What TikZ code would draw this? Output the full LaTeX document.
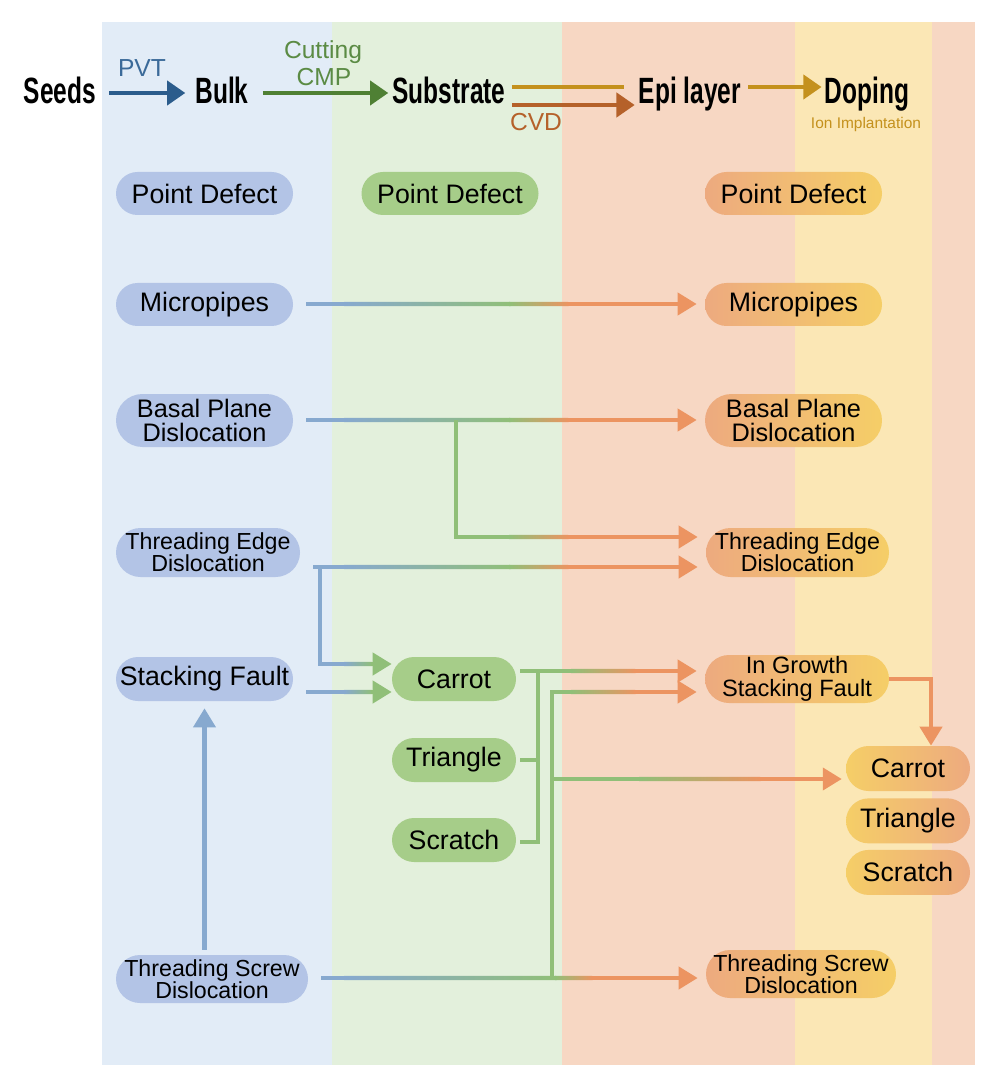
\documentclass[tikz,border=0pt]{standalone}
\usepackage{fontspec}
\setmainfont{Liberation Sans}
\newfontfamily\headfont[FakeStretch=0.67]{Liberation Sans}
\usetikzlibrary{arrows.meta,calc,positioning}

\definecolor{bandblue}{HTML}{E2ECF7}
\definecolor{bandgreen}{HTML}{E3F0DC}
\definecolor{bandsalmon}{HTML}{F7D7C3}
\definecolor{bandyellow}{HTML}{FBE7B5}
\definecolor{pillblue}{HTML}{B3C4E6}
\definecolor{pillgreen}{HTML}{A6CD89}
\definecolor{pillorange}{HTML}{EDAA7F}
\definecolor{pillyellow}{HTML}{F5CE67}
\definecolor{lineblue}{HTML}{87A9CF}
\definecolor{linegreen}{HTML}{90BF78}
\definecolor{lineorange}{HTML}{EC9461}
\definecolor{pvtblue}{HTML}{2B5C8C}
\definecolor{pvttext}{HTML}{3B6A99}
\definecolor{cmpgreen}{HTML}{4F8034}
\definecolor{cmptext}{HTML}{5B8B44}
\definecolor{cvdbrown}{HTML}{B5612A}
\definecolor{epigold}{HTML}{C4911D}

\tikzset{
  head/.style={
    font=\headfont\bfseries\fontsize{26}{26}\selectfont,
    inner sep=0pt,
    anchor=base,
  },
  proc label/.style={
    font=\fontsize{17.5}{17.5}\selectfont,
    inner sep=0pt,
    anchor=base,
  },
  pill/.style 2 args={
    minimum width={#1*0.025cm},
    minimum height={#2*0.025cm},
    rounded corners={#2*0.0125cm},
    inner sep=0pt,
    align=center,
    font=\fontsize{19}{19}\selectfont,
  },
  basal text/.style={font=\fontsize{18}{17.7}\selectfont},
  thread text/.style={font=\fontsize{16.5}{15.6}\selectfont},
  growth text/.style={font=\fontsize{16.8}{16.2}\selectfont},
  blue pill/.style={fill=pillblue},
  green pill/.style={fill=pillgreen},
  epi pill/.style={left color=pillorange, right color=pillyellow},
  doping pill/.style={left color=pillyellow, right color=pillorange},
  flow/.style={line width=3.2pt},
  flow tip/.style={-{Triangle[length=13.5pt,width=15.5pt]}},
  after fade/.style={shorten <=-0.7pt},
  head arrow/.style={line width=3.4pt, -{Triangle[length=13pt,width=17pt]}},
}

% colour fade along a straight piece (a band as thick as a flow line)
\newcommand{\fadeline}[4]{%
  \shade[left color=#3, right color=#4]
    ($(#1)+(-1,-2.2)$) -- ($(#2)+(0,-2.2)$) -- ($(#2)+(0.6,2.2)$) -- ($(#1)+(-1,2.2)$) -- cycle;}

% blue -> green -> orange connector along one row
\newcommand{\bgoline}[5]{%
  \draw[flow, lineblue, shorten <=9.2pt] (#1.east |- #3) -- (xb |- #3);
  \fadeline{xb |- #3}{#4 |- #3}{lineblue}{linegreen}
  \fadeline{#4 |- #3}{#5 |- #3}{linegreen}{lineorange}
  \draw[flow, lineorange, flow tip, after fade, shorten >=5.7pt] (#5 |- #3) -- (#2.west |- #3);
}

\begin{document}
\begin{tikzpicture}[x=0.025cm, y=-0.025cm]
  % stage bands
  \fill[white] (0,0) rectangle (993,1075);
  \fill[bandblue] (102,22) rectangle (332,1065);
  \fill[bandgreen] (332,22) rectangle (562,1065);
  \fill[bandsalmon] (562,22) rectangle (795,1065);
  \fill[bandyellow] (795,22) rectangle (932,1065);
  \fill[bandsalmon] (932,22) rectangle (975,1065);

  % process row
  \node[head] (seeds) at (60,104) {Seeds};
  \node[head] (bulk) at (222,104) {Bulk};
  \node[head] (substrate) at (449,104) {Substrate};
  \node[head] (epi) at (690,104) {Epi layer};
  \node[head] (doping) at (867,104) {Doping};

  \coordinate (arrow row) at (0,93);
  \coordinate (gold row) at (0,87);
  \coordinate (cvd row) at (0,105);

  \draw[pvtblue, head arrow, shorten <=9pt, shorten >=7pt] (seeds.east |- arrow row) -- (bulk.west |- arrow row);
  \draw[cmpgreen, head arrow, shorten <=10pt, shorten >=2.8pt] (bulk.east |- arrow row) -- (substrate.west |- arrow row);
  \draw[epigold, line width=3.4pt, shorten <=4.3pt, shorten >=10.6pt] (substrate.east |- gold row) -- (epi.west |- gold row);
  \draw[cvdbrown, head arrow, shorten <=4.3pt, shorten >=2.8pt] (substrate.east |- cvd row) -- (epi.west |- cvd row);
  \draw[epigold, head arrow, shorten <=5pt, shorten >=2.1pt] (epi.east |- gold row) -- (doping.west |- gold row);

  \node[proc label, text=pvttext] (pvt) at (142,77) {PVT};
  \node[proc label, text=cmptext] (cutting) at (323,59) {Cutting};
  \node[proc label, text=cmptext] (cmp) at (324,86) {CMP};
  \node[proc label, text=cvdbrown] (cvd) at (536,131) {CVD};
  \node[proc label, text=epigold, font=\fontsize{11}{11}\selectfont] (ion) at (866,129) {Ion Implantation};

  % bulk defects
  \node[pill={177}{43}, blue pill] (bpd) at (204.5,193.5) {Point Defect};
  \node[pill={177}{43}, blue pill] (bmp) at (204.5,304.5) {Micropipes};
  \node[pill={177}{53}, blue pill, basal text] (bbpd) at (204.5,420.5) {Basal Plane\\Dislocation};
  \node[pill={184}{49}, blue pill, thread text] (bted) at (208,552.5) {Threading Edge\\Dislocation};
  \node[pill={177}{44}, blue pill] (bsf) at (204.5,679) {Stacking Fault};
  \node[pill={192}{48}, blue pill, thread text] (btsd) at (212,979) {Threading Screw\\Dislocation};

  % substrate defects
  \node[pill={177}{43}, green pill] (gpd) at (450,193.5) {Point Defect};
  \node[pill={124}{44}, green pill] (gcarrot) at (454,679) {Carrot};
  \node[pill={124}{44}, green pill] (gtriangle) at (454,760) {Triangle};
  \node[pill={124}{44}, green pill] (gscratch) at (454,840) {Scratch};

  % epi layer defects
  \node[pill={177}{43}, epi pill] (epd) at (793.5,193.5) {Point Defect};
  \node[pill={177}{43}, epi pill] (emp) at (793.5,304.5) {Micropipes};
  \node[pill={177}{53}, epi pill, basal text] (ebpd) at (793.5,420.5) {Basal Plane\\Dislocation};
  \node[pill={183}{49}, epi pill, thread text] (eted) at (797.5,552.5) {Threading Edge\\Dislocation};
  \node[pill={184}{48}, epi pill, growth text] (eigsf) at (797,679) {In Growth\\Stacking Fault};
  \node[pill={190}{48}, epi pill, thread text] (etsd) at (801,974) {Threading Screw\\Dislocation};

  \node[pill={124}{45}, doping pill] (dcarrot) at (908,768.5) {Carrot};
  \node[pill={124}{45}, doping pill, below=0.17cm of dcarrot] (dtriangle) {Triangle};
  \node[pill={124}{45}, doping pill, below=0.15cm of dtriangle] (dscratch) {Scratch};

  % fade columns, buses and rows
  \coordinate (xb) at (345,0);
  \coordinate (xbg) at (372,0);
  \coordinate (xg) at (510,0);
  \coordinate (xo) at (568,0);
  \coordinate (xg1) at (556,0);
  \coordinate (xo1) at (592,0);
  \coordinate (xg2) at (572,0);
  \coordinate (xo2) at (635,0);
  \coordinate (xg3) at (640,0);
  \coordinate (xo3) at (760,0);
  \coordinate (bus a) at (538,0);
  \coordinate (bus b) at (552,0);
  \coordinate (drop) at (931,0);

  \coordinate (row mp) at (0,304);
  \coordinate (row bpd) at (0,420);
  \coordinate (row split) at (0,537);
  \coordinate (row ted) at (0,567);
  \coordinate (row carrot) at (0,664);
  \coordinate (row growth) at (0,671);
  \coordinate (row sf) at (0,692);
  \coordinate (row tri) at (0,760);
  \coordinate (row dcarrot) at (0,779);
  \coordinate (row scr) at (0,842);
  \coordinate (row tsd) at (0,978);
  \coordinate (basal split) at (456,420);
  \coordinate (ted split) at (320,567);

  % straight through
  \bgoline{bmp}{emp}{row mp}{xg}{xo}
  \bgoline{bbpd}{ebpd}{row bpd}{xg}{xo}
  \bgoline{bted}{eted}{row ted}{xg}{xo}
  \bgoline{btsd}{etsd}{row tsd}{xg1}{xo1}

  % basal plane -> threading edge
  \draw[flow, linegreen] (basal split) -- (basal split |- row split) -- (xg |- row split);
  \fadeline{xg |- row split}{xo |- row split}{linegreen}{lineorange}
  \draw[flow, lineorange, flow tip, after fade, shorten >=5.7pt] (xo |- row split) -- (eted.west |- row split);

  % into substrate carrot
  \draw[flow, lineblue] (ted split) -- (ted split |- row carrot) -- (xb |- row carrot);
  \fadeline{xb |- row carrot}{xbg |- row carrot}{lineblue}{linegreen}
  \draw[flow, linegreen, flow tip, after fade] (xbg |- row carrot) -- (gcarrot.west |- row carrot);
  \draw[flow, lineblue, shorten <=9.2pt] (bsf.east |- row sf) -- (xb |- row sf);
  \fadeline{xb |- row sf}{xbg |- row sf}{lineblue}{linegreen}
  \draw[flow, linegreen, flow tip, after fade] (xbg |- row sf) -- (gcarrot.west |- row sf);

  % substrate defects -> in growth stacking fault
  \draw[flow, linegreen, shorten <=2.8pt] (gtriangle.east |- row tri) -- (bus a |- row tri);
  \draw[flow, linegreen, shorten <=2.8pt] (gscratch.east |- row scr) -- (bus a |- row scr) -- (bus a |- row growth);
  \draw[flow, linegreen, shorten <=2.8pt] (gcarrot.east |- row growth) -- (xg2 |- row growth);
  \fadeline{xg2 |- row growth}{xo2 |- row growth}{linegreen}{lineorange}
  \draw[flow, lineorange, flow tip, after fade, shorten >=5.7pt] (xo2 |- row growth) -- (eigsf.west |- row growth);

  % screw dislocation bus
  \draw[flow, linegreen] (bus b |- row tsd) -- (bus b |- row sf) -- (xg2 |- row sf);
  \fadeline{xg2 |- row sf}{xo2 |- row sf}{linegreen}{lineorange}
  \draw[flow, lineorange, flow tip, after fade, shorten >=5.7pt] (xo2 |- row sf) -- (eigsf.west |- row sf);
  \draw[flow, linegreen] (bus b |- row dcarrot) -- (xg3 |- row dcarrot);
  \fadeline{xg3 |- row dcarrot}{xo3 |- row dcarrot}{linegreen}{lineorange}
  \draw[flow, lineorange, flow tip, after fade, shorten >=2.8pt] (xo3 |- row dcarrot) -- (dcarrot.west |- row dcarrot);

  % screw -> stacking fault
  \draw[lineblue, line width=3pt, flow tip, shorten <=3.5pt, shorten >=5pt] (bsf.south |- btsd.north) -- (bsf.south);

  % in growth stacking fault -> carrot
  \draw[flow, lineorange, flow tip] (eigsf.east) -| (drop |- dcarrot.north);
\end{tikzpicture}
\end{document}
